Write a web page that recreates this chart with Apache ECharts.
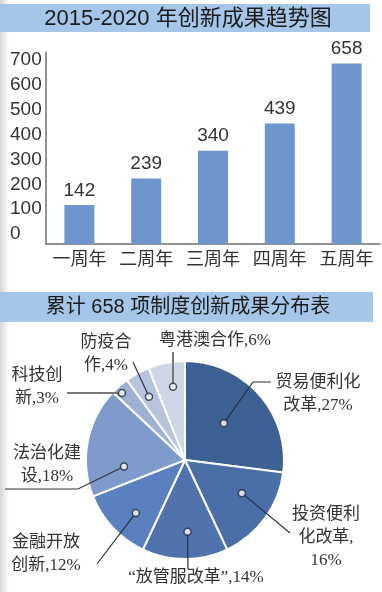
<!DOCTYPE html>
<html><head><meta charset="utf-8">
<script src="https://cdn.jsdelivr.net/npm/echarts@6/dist/echarts.min.js"></script>
<style>html,body{margin:0;padding:0;background:#fff}#c{width:382px;height:592px}</style>
</head><body><div id="c"></div>
<script>
// ---- data ----
const title1 = '2015-2020 年创新成果趋势图';
const title2 = '累计 658 项制度创新成果分布表';
const categories = ['一周年', '二周年', '三周年', '四周年', '五周年'];
const values = [142, 239, 340, 439, 658];
const yMin = 0, yMax = 700, yStep = 100;
const pieNames = ['贸易便利化改革', '投资便利化改革', '“放管服改革”', '金融开放创新', '法治化建设', '科技创新', '防疫合作', '粤港澳合作'];
const pieValues = [27, 16, 14, 12, 18, 3, 4, 6];

// ---- layout / style ----
const nameBreaks = [5, 4, 0, 4, 4, 3, 3, 0];
const breakBeforeValue = [false, true, false, false, false, false, false, false];
const pieColors = ['#3e6193', '#4a6ea7', '#5073ae', '#5a80bf', '#7e9bcc', '#9fb0d5', '#b8c3de', '#cfd6e7'];
const CX = 185, CY = 460, R = 99;
const dotFrac = [0.48, 0.40, 0.46, 0.41, 0.24, 0.33, 0.44, 0.57];
const dotR = [0.54, 0.665, 0.725, 0.73, 0.62, 0.93, 0.735, 0.75];
const labelPos = [[318, 394], [326, 538], [196, 578], [46, 554], [47, 465], [37, 387], [106, 354], [215, 341]];
const linePts = [[[253, 382], [271, 382]], [[290, 533]], [[188, 569]], [[97, 564]],
  [[78, 489], [5, 489]], [[67, 393]], [[133, 362]], [[173, 352]]];
const lineColors = ['#24303e', '#24303e', '#24303e', '#24303e', '#333', '#777', '#333', '#777'];
const lineWidths = [1.2, 1.2, 1.2, 1.2, 1.2, 2, 1.2, 2];

const total = pieValues.reduce((a, b) => a + b, 0);
let acc = 0;
const dotPolar = pieValues.map((v, i) => {
  const start = acc / total * 360, span = v / total * 360;
  acc += v;
  return [dotR[i], start + dotFrac[i] * span];
});
const dotPx = dotPolar.map(([r, a]) => {
  const rad = a * Math.PI / 180;
  return [CX + r * R * Math.sin(rad), CY - r * R * Math.cos(rad)];
});
function labelText(i) {
  const n = pieNames[i], b = nameBreaks[i];
  const nm = b ? n.slice(0, b) + '\n' + n.slice(b) : n;
  return nm + ',' + (breakBeforeValue[i] ? '\n' : '') + pieValues[i] + '%';
}

const cjk = '"Noto Sans CJK SC", "Liberation Sans", sans-serif';
const sans = '"Liberation Sans", "Noto Sans CJK SC", sans-serif';
const serif = '"Liberation Serif", "Noto Sans CJK SC", serif';

const leaderLines = dotPx.map((d, i) => ({
  type: 'polyline', z: 10,
  shape: { points: [d].concat(linePts[i]) },
  style: { stroke: lineColors[i], lineWidth: lineWidths[i], fill: null }
}));

const chart = echarts.init(document.getElementById('c'), null, { renderer: 'canvas' });
chart.setOption({
  backgroundColor: '#fff',
  animation: false,
  graphic: [
    { type: 'rect', z: -10, shape: { x: 0, y: 0, width: 9, height: 592 },
      style: { fill: { type: 'linear', x: 0, y: 0, x2: 1, y2: 0, colorStops: [{ offset: 0, color: '#d8d8d8' }, { offset: 1, color: '#ffffff' }] } } },
    { type: 'rect', z: -5, shape: { x: 0, y: 4, width: 370, height: 28 }, style: { fill: '#a5c6e8' } },
    { type: 'rect', z: -5, shape: { x: 0, y: 292, width: 373, height: 30 }, style: { fill: '#a5c6e8' } },
    { type: 'text', z: 5, x: 188, y: 19, style: { text: title1, fill: '#1a1a1a', font: '22px ' + sans, align: 'center', verticalAlign: 'middle' } },
    { type: 'text', z: 5, x: 188, y: 307, style: { text: title2, fill: '#1a1a1a', font: '20px ' + sans, align: 'center', verticalAlign: 'middle' } }
  ].concat(leaderLines),
  grid: [
    { left: 46, right: 2, top: 52, bottom: 348 },
    { left: 46, right: 2, top: 60, bottom: 358 }
  ],
  xAxis: [
    { type: 'category', gridIndex: 0, data: categories,
      axisLine: { lineStyle: { color: '#6e6e6e', width: 1.5 } }, axisTick: { show: false },
      axisLabel: { interval: 0, fontSize: 18, color: '#333', margin: 5, fontFamily: cjk } },
    { type: 'category', gridIndex: 1, data: categories, show: false }
  ],
  yAxis: [
    { type: 'value', gridIndex: 0, min: yMin, max: yMax, interval: yStep,
      axisLine: { show: true, lineStyle: { color: '#6e6e6e', width: 1.5 } }, axisTick: { show: false },
      axisLabel: { show: false }, splitLine: { show: false } },
    { type: 'value', gridIndex: 1, min: yMin, max: yMax, interval: yStep,
      axisLine: { show: false }, axisTick: { show: false }, splitLine: { show: false },
      axisLabel: { align: 'left', margin: 36, fontSize: 19, color: '#333', fontFamily: sans } }
  ],
  polar: { center: [CX, CY], radius: R },
  angleAxis: { type: 'value', min: 0, max: 360, startAngle: 90, clockwise: true, show: false },
  radiusAxis: { type: 'value', min: 0, max: 1, show: false },
  series: [
    { type: 'bar', xAxisIndex: 0, yAxisIndex: 0, data: values, barWidth: 30,
      itemStyle: { color: '#6f96cc' },
      label: { show: true, position: 'top', distance: 5, fontSize: 19, color: '#333', fontFamily: sans } },
    { type: 'pie', center: [CX, CY], radius: R, startAngle: 90, clockwise: true,
      avoidLabelOverlap: false, z: 2,
      itemStyle: { borderColor: '#fff', borderWidth: 2 },
      data: pieValues.map((v, i) => ({ name: pieNames[i], value: v, itemStyle: { color: pieColors[i] } })),
      label: { show: true, position: 'outside', color: '#333', fontSize: 17, lineHeight: 23,
        fontFamily: serif, formatter: p => labelText(p.dataIndex) },
      labelLine: { show: false },
      labelLayout: p => {
        const i = p.dataIndex;
        return { x: labelPos[i][0], y: labelPos[i][1], align: 'center', verticalAlign: 'middle' };
      }
    },
    { type: 'scatter', coordinateSystem: 'polar', z: 12, zlevel: 0, symbol: 'circle', symbolSize: 7,
      data: dotPolar, silent: true,
      itemStyle: { color: '#fff', borderColor: '#1e2a3a', borderWidth: 1.5 } }
  ]
});
</script></body></html>
